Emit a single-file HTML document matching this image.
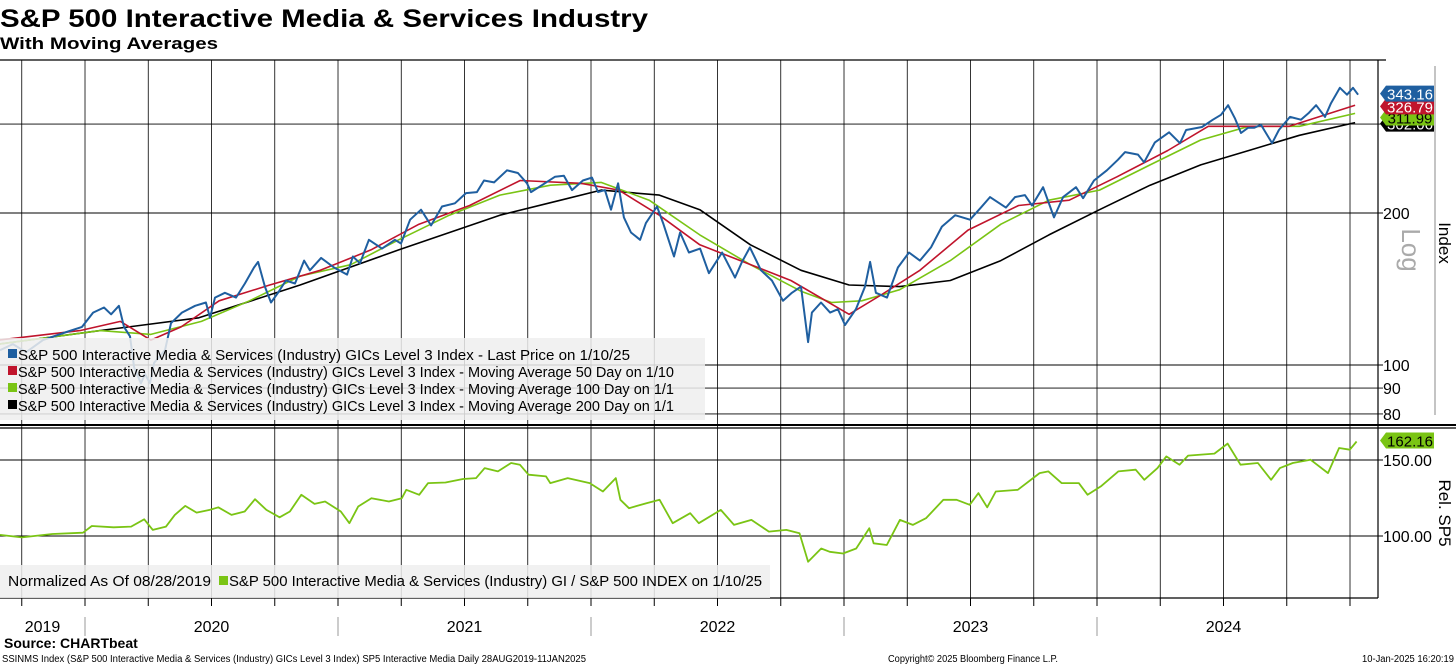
<!DOCTYPE html>
<html><head><meta charset="utf-8"><style>
html,body{margin:0;padding:0;background:#fff;width:1456px;height:665px;overflow:hidden}
svg{display:block;font-family:"Liberation Sans",sans-serif}
</style></head><body>
<svg id="c" width="1456" height="665" viewBox="0 0 1456 665">
<text x="0" y="27" font-size="25" font-weight="bold" textLength="648" lengthAdjust="spacingAndGlyphs">S&amp;P 500 Interactive Media &amp; Services Industry</text>
<text x="0" y="49" font-size="17" font-weight="bold" textLength="218" lengthAdjust="spacingAndGlyphs">With Moving Averages</text>
<g id="grid"></g><g id="series"></g><g id="overlay"></g>
</svg>
<script>
// price: time as years since 2019-08-28
const priceYrs=[0,.051,.103,.170,.257,.324,.368,.411,.439,.470,.490,.514,.530,.557,.573,.593,.609,.652,.676,.719,.771,.814,.830,.850,.889,.933,.968,1.004,1.020,1.047,1.071,1.099,1.130,1.166,1.202,1.225,1.269,1.320,1.372,1.395,1.423,1.458,1.510,1.561,1.585,1.621,1.664,1.704,1.747,1.798,1.842,1.885,1.913,1.953,2.004,2.047,2.083,2.099,2.142,2.194,2.229,2.261,2.304,2.340,2.364,2.391,2.415,2.443,2.466,2.494,2.530,2.553,2.597,2.621,2.664,
2.688,2.723,2.767,2.802,2.854,2.905,2.933,2.964,3.008,3.051,3.095,3.130,3.166,3.194,3.209,3.245,3.281,3.312,3.340,3.383,3.419,3.439,3.462,3.506,3.549,3.593,3.636,3.680,3.723,3.775,3.834,3.877,3.913,3.976,4.012,4.051,4.079,4.123,4.166,4.202,4.253,4.281,4.324,4.375,4.419,4.447,4.498,4.522,4.565,4.621,4.664,4.688,4.751,4.794,4.826,4.854,4.881,4.905,4.933,4.957,4.984,5.028,5.055,5.099,5.142,5.174,5.202,5.237,5.261,5.296,5.324,5.348,5.368];
const priceV=[107,110,106,112,116,119,127,130,126,131,119,114,99,92,96,92,101,107,121,127,131,133,124,136,139,136,145,156,160,143,133,139,147,145,161,154,163,156,151,164,159,177,170,177,174,194,203,189,206,209,219,220,232,230,243,240,229,220,227,236,237,222,232,235,220,222,203,229,196,183,177,191,206,191,164,
183,167,170,152,167,149,160,171,154,147,134,139,143,111,127,133,127,129,120,129,143,160,139,136,156,167,161,171,188,198,194,205,215,205,215,217,207,225,196,215,225,214,232,243,255,264,261,252,276,289,275,292,296,306,313,327,308,288,295,295,299,275,292,310,306,316,327,310,330,354,343,354,343];
// moving averages: time as fractional year
const ma50T=[2019.66,2019.98,2020.14,2020.26,2020.38,2020.53,2020.73,2020.93,2021.13,2021.32,2021.52,2021.72,2021.96,2022.11,2022.27,2022.43,2022.59,2022.79,2023.02,2023.14,2023.30,2023.49,2023.69,2023.89,2024.08,2024.28,2024.44,2024.60,2024.76,2025.02];
const ma50V=[112,117,122,112,119,134,144,154,169,190,207,232,229,222,198,173,161,147,126,137,154,185,207,212,236,266,297,297,297,327];
const ma100T=[2019.66,2020.06,2020.26,2020.46,2020.65,2020.85,2021.05,2021.24,2021.44,2021.64,2021.84,2022.04,2022.23,2022.43,2022.63,2022.83,2022.95,2023.07,2023.22,2023.42,2023.62,2023.81,2024.01,2024.21,2024.41,2024.60,2024.80,2025.02];
const ma100V=[110,117,115,122,134,150,158,177,198,217,227,230,212,181,158,140,133,134,141,161,190,212,222,249,279,297,297,315];
const ma200T=[2019.66,2020.06,2020.45,2020.85,2021.24,2021.64,2021.88,2022.04,2022.27,2022.43,2022.63,2022.83,2023.02,2023.22,2023.42,2023.62,2023.81,2024.01,2024.21,2024.41,2024.60,2024.80,2025.02];
const ma200V=[110,117,124,144,169,198,212,222,217,203,173,154,144,143,147,161,181,203,227,249,266,285,302];
// relative: years since 2019-08-28
const relYrs=[0,.086,.207,.328,.363,.449,.518,.570,.604,.656,.691,.732,.777,.829,.863,.915,.967,1.008,1.053,1.105,1.146,1.191,1.243,1.285,1.347,1.381,1.416,1.468,1.537,1.588,1.606,1.657,1.692,1.761,1.830,1.882,1.916,1.968,2.020,2.055,2.089,2.158,2.175,2.244,2.331,2.383,2.434,2.452,2.486,2.555,2.607,2.659,2.728,2.762,2.849,2.901,2.970,3.039,3.108,3.160,3.194,3.246,3.280,3.332,3.384,3.436,3.453,3.505,3.557,3.608,3.660,3.729,3.781,3.833,3.867,3.902,3.936,4.023,4.109,4.144,4.196,4.264,4.299,4.351,4.420,4.489,4.523,4.575,4.610,4.662,4.696,4.800,4.852,4.903,4.972,5.024,5.059,5.110,5.180,5.249,5.293,5.335,5.362];
const relV=[100.7,99.1,101.3,102.2,106.6,105.7,106.2,111.0,104.0,106.2,113.9,119.8,115.4,117.2,118.9,113.9,116.1,124.2,117.2,112.3,116.1,127.1,121.1,122.7,116.1,108.4,119.4,124.9,122.7,124.9,130.4,127.1,134.8,135.2,137.5,138.1,144.7,142.5,148.0,146.9,140.3,139.2,134.8,138.1,134.8,129.3,138.1,123.8,118.3,121.6,123.8,108.4,115.0,108.4,117.2,107.3,110.6,102.9,104.0,101.8,83.0,91.8,89.6,88.5,91.8,105.1,95.2,94.1,110.6,107.3,111.7,123.8,123.8,120.5,128.2,118.9,129.3,130.4,141.4,142.5,134.8,134.8,127.1,132.6,142.5,143.6,137.0,144.7,152.4,146.9,152.9,154.2,160.8,146.9,148.0,137.0,144.7,148.0,150.2,141.4,157.9,156.8,162.2];
const yTicksTop=[80,90,100,200,300];
const yLabelsTop=["80","90","100","200",""];
const yTicksBot=[100,150];
const yLabelsBot=["100.00","150.00"];
const years=[2019,2020,2021,2022,2023,2024];
const lastVals=[343.16,326.79,311.99,302.06];
const lastRel=162.16;

const NS="http://www.w3.org/2000/svg";
const T0=2019.664, PX=253, X1=1378;
const xS=t=>(t-T0)*PX;
const yTop=v=>213-Math.log2(v/200)*152;
const yBot=v=>536-(v-100)/50*76;
const priceT=priceYrs.map(o=>T0+o);
const relT=relYrs.map(o=>T0+o);
function mk(tag,attrs,parent,txt){const e=document.createElementNS(NS,tag);for(const k in attrs)e.setAttribute(k,attrs[k]);if(txt!==undefined)e.textContent=txt;parent.appendChild(e);return e;}
const grid=document.getElementById('grid'),ser=document.getElementById('series'),ov=document.getElementById('overlay');

for(let y=2019.75;y<2025.01;y+=0.25){
  const x=xS(y);
  const l=mk('line',{x1:x,x2:x,y1:60,y2:598,stroke:'#000','stroke-width':0.8},grid);
  
  
  const tk=mk('line',{x1:x,x2:x,y1:598,y2:606,stroke:'#000','stroke-width':1},grid);
  
  
}
yTicksTop.forEach((v,i)=>{
  const y=yTop(v);
  const l=mk('line',{x1:0,x2:X1+5,y1:y,y2:y,stroke:'#000','stroke-width':0.9},grid);
  
  
  const t=mk('text',{x:1383,y:y+6,'font-size':16},grid,yLabelsTop[i]);
  
  
});
yTicksBot.forEach((v,i)=>{
  const y=yBot(v);
  const l=mk('line',{x1:0,x2:X1+5,y1:y,y2:y,stroke:'#000','stroke-width':0.9},grid);
  
  
  const t=mk('text',{x:1383,y:y+6,'font-size':16},grid,yLabelsBot[i]);
  
  
});
[[0,60,X1+8,60],[X1,60,X1,598],[0,425,1456,425],[0,428,1456,428],[0,598,X1,598]].forEach(a=>{
  const l=mk('line',{x1:a[0],y1:a[1],x2:a[2],y2:a[3],stroke:'#000','stroke-width':a[1]===425?2:1.2},grid);
  
  
});
years.forEach(yr=>{
  const a=Math.max(T0,yr),b=Math.min(yr+1,T0+X1/PX);
  const t=mk('text',{x:(xS(a)+xS(b))/2,y:632,'font-size':16,'text-anchor':'middle'},grid,String(yr));
  
  
  if(yr>2019){const s=mk('line',{x1:xS(yr),x2:xS(yr),y1:617,y2:636,stroke:'#999','stroke-width':1},grid);
    
    }
});
function line(T,V,ys,col,w,name){
  const d=T.map((t,i)=>(i?'L':'M')+xS(t).toFixed(1)+' '+ys(V[i]).toFixed(1)).join(' ');
  const p=mk('path',{d:d,fill:'none',stroke:col,'stroke-width':w,'stroke-linejoin':'round'},ser);
  
  
}
line(ma200T,ma200V,yTop,'#000',1.6,'ma200-line');
line(ma100T,ma100V,yTop,'#7ac414',1.6,'ma100-line');
line(ma50T,ma50V,yTop,'#c0142c',1.6,'ma50-line');
line(priceT,priceV,yTop,'#1f5fa0',2,'price-line');
line(relT,relV,yBot,'#7ac414',1.8,'relative-line');

const lg=mk('rect',{x:0,y:338,width:705,height:82,fill:'#eeeeee','fill-opacity':0.85},ov);


const legTxt=["S&P 500 Interactive Media & Services (Industry) GICs Level 3 Index - Last Price on 1/10/25","S&P 500 Interactive Media & Services (Industry) GICs Level 3 Index - Moving Average 50 Day on 1/10","S&P 500 Interactive Media & Services (Industry) GICs Level 3 Index - Moving Average 100 Day on 1/1","S&P 500 Interactive Media & Services (Industry) GICs Level 3 Index - Moving Average 200 Day on 1/1"];
const legCol=['#1f5fa0','#c0142c','#7ac414','#000'];
const legLen=[612,656,656,656];
legTxt.forEach((s,i)=>{
  const y=355+i*17;
  const r=mk('rect',{x:8,y:y-6,width:9,height:9,fill:legCol[i]},ov);
  
  
  const t=mk('text',{x:18,y:y+5,'font-size':15,textLength:legLen[i],lengthAdjust:'spacingAndGlyphs'},ov,s);
  
  
});
const lg2=mk('rect',{x:0,y:565,width:770,height:33,fill:'#eeeeee','fill-opacity':0.85},ov);


const n1=mk('text',{x:8,y:586,'font-size':15,textLength:203,lengthAdjust:'spacingAndGlyphs'},ov,'Normalized As Of 08/28/2019');


const sw=mk('rect',{x:219,y:576,width:9,height:9,fill:'#7ac414'},ov);


const n2=mk('text',{x:229,y:586,'font-size':15,textLength:533,lengthAdjust:'spacingAndGlyphs'},ov,'S&P 500 Interactive Media & Services (Industry) GI / S&P 500 INDEX on 1/10/25');



function tag(y,txt,col,fg,name){
  const p=mk('path',{d:`M${X1+2} ${y} L${X1+8} ${y-8} L${X1+56} ${y-8} L${X1+56} ${y+8} L${X1+8} ${y+8} Z`,fill:col},ov);
  
  
  const t=mk('text',{x:X1+32,y:y+6,'font-size':15,'text-anchor':'middle',fill:fg},ov,txt);
  
  
}
tag(yTop(lastVals[3])+1,lastVals[3].toFixed(2),'#000','#fff','last-value-ma200');
tag(yTop(lastVals[2])+2,lastVals[2].toFixed(2),'#7ac414','#000','last-value-ma100');
tag(yTop(lastVals[1])+1,lastVals[1].toFixed(2),'#c0142c','#fff','last-value-ma50');
tag(yTop(lastVals[0])-1,lastVals[0].toFixed(2),'#1f5fa0','#fff','last-value-price');
tag(yBot(lastRel)-1,lastRel.toFixed(2),'#7ac414','#000','last-value-relative');

const vl=mk('line',{x1:1435,x2:1435,y1:66,y2:415,stroke:'#888','stroke-width':1},ov);


const lgT=mk('text',{x:0,y:0,'font-size':26,fill:'#aaa',transform:'translate(1402,250) rotate(90)','text-anchor':'middle'},ov,'Log');


const ix=mk('text',{x:0,y:0,'font-size':17,transform:'translate(1439,243) rotate(90)','text-anchor':'middle'},ov,'Index');


const rs=mk('text',{x:0,y:0,'font-size':17,transform:'translate(1439,513) rotate(90)','text-anchor':'middle'},ov,'Rel. SP5');



const src=mk('text',{x:4,y:648,'font-size':14,'font-weight':'bold'},ov,'Source: CHARTbeat');


const f1=mk('text',{x:2,y:662,'font-size':10,textLength:584,lengthAdjust:'spacingAndGlyphs'},ov,'SSINMS Index (S&P 500 Interactive Media & Services (Industry) GICs Level 3 Index) SP5 Interactive Media  Daily 28AUG2019-11JAN2025');


const f2=mk('text',{x:888,y:662,'font-size':10,textLength:170,lengthAdjust:'spacingAndGlyphs'},ov,'Copyright© 2025 Bloomberg Finance L.P.');


const f3=mk('text',{x:1362,y:662,'font-size':10,textLength:92,lengthAdjust:'spacingAndGlyphs'},ov,'10-Jan-2025 16:20:19');


</script>
</body></html>
